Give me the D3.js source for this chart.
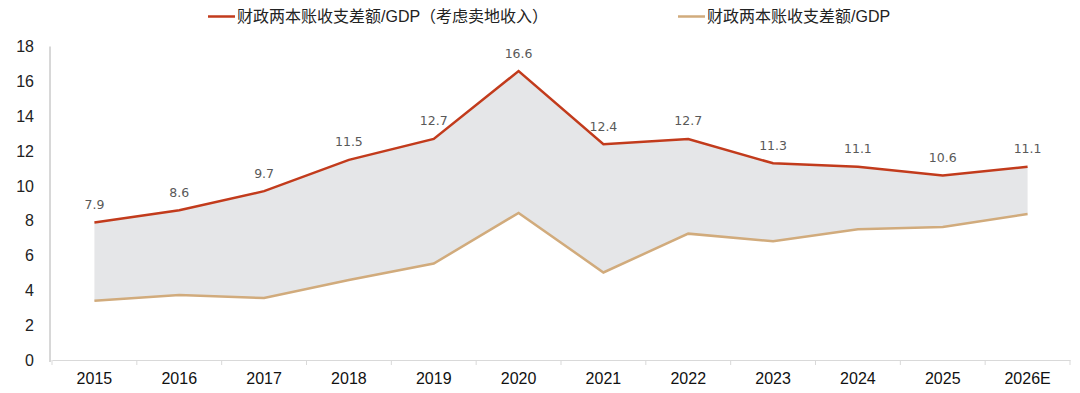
<!DOCTYPE html>
<html><head><meta charset="utf-8">
<script src="https://cdn.jsdelivr.net/npm/d3@7"></script>
<style>body{margin:0;background:#fff}svg{display:block}</style>
</head><body><svg id="c" width="1080" height="393"></svg>
<script>
const categories = ["2015","2016","2017","2018","2019","2020","2021","2022","2023","2024","2025","2026E"];
const withLand = [7.9,8.6,9.7,11.5,12.7,16.6,12.4,12.7,11.3,11.1,10.6,11.1];
const withoutLand = [3.4,3.73,3.56,4.6,5.54,8.45,5.03,7.26,6.82,7.51,7.64,8.39];
const yTicks = [0,2,4,6,8,10,12,14,16,18];
const seriesNames = ["财政两本账收支差额/GDP（考虑卖地收入）","财政两本账收支差额/GDP"];

const svg = d3.select("#c");
const x = d3.scaleBand().domain(categories).range([52,1070]);
const y = d3.scaleLinear().domain([0,18]).range([360,46.7]);
const cx = d => x(d)+x.bandwidth()/2;
const font = "'Liberation Sans', Arial, 'Noto Sans CJK SC', sans-serif";

// area
const area = d3.area().x((d,i)=>cx(categories[i])).y0((d,i)=>y(withoutLand[i])).y1(d=>y(d));
svg.append("path").datum(withLand).attr("d",area).attr("fill","#e5e6e8");

// axes
const ya = svg.append("g").attr("transform","translate(50,0)")
  .call(d3.axisLeft(y).tickValues(yTicks).tickSize(0).tickPadding(16));
ya.select(".domain").attr("stroke","#b0b0b0").attr("d","M0,46.5V362");
ya.selectAll("text").attr("font-family",font).attr("font-size",16).attr("fill","#222");

const xa = svg.append("g").attr("transform","translate(0,360)")
  .call(d3.axisBottom(x).tickSize(0).tickPadding(13));
xa.select(".domain").attr("stroke","#d9d9d9");
xa.selectAll("text").attr("font-family",font).attr("font-size",16).attr("fill","#111");
// category boundary ticks
const bounds = categories.map(c=>x(c)).concat([x(categories[categories.length-1])+x.bandwidth()]);
svg.append("g").selectAll("line").data(bounds).join("line")
  .attr("x1",d=>d).attr("x2",d=>d).attr("y1",360).attr("y2",365)
  .attr("stroke","#d9d9d9");

// lines
const line = d3.line().x((d,i)=>cx(categories[i])).y(d=>y(d));
svg.append("path").datum(withoutLand).attr("d",line).attr("fill","none")
  .attr("stroke","#d1ab7c").attr("stroke-width",2.5);
svg.append("path").datum(withLand).attr("d",line).attr("fill","none")
  .attr("stroke","#c23b1c").attr("stroke-width",2.5);

// labels
svg.append("g").selectAll("text").data(withLand).join("text")
  .attr("x",(d,i)=>cx(categories[i])).attr("y",d=>y(d)-13.5)
  .attr("text-anchor","middle").attr("font-family","'DejaVu Sans', sans-serif")
  .attr("font-size",12.5).attr("fill","#595959").text(d=>d.toFixed(1));

// legend
const lg = [{x:208,c:"#c23b1c",t:seriesNames[0]},{x:678,c:"#d1ab7c",t:seriesNames[1]}];
lg.forEach(l=>{
  svg.append("line").attr("x1",l.x).attr("x2",l.x+27).attr("y1",16.5).attr("y2",16.5)
    .attr("stroke",l.c).attr("stroke-width",2.5);
  svg.append("text").attr("x",l.x+29).attr("y",22).attr("font-family",font)
    .attr("font-size",16).attr("fill","#222").text(l.t);
});
</script></body></html>
